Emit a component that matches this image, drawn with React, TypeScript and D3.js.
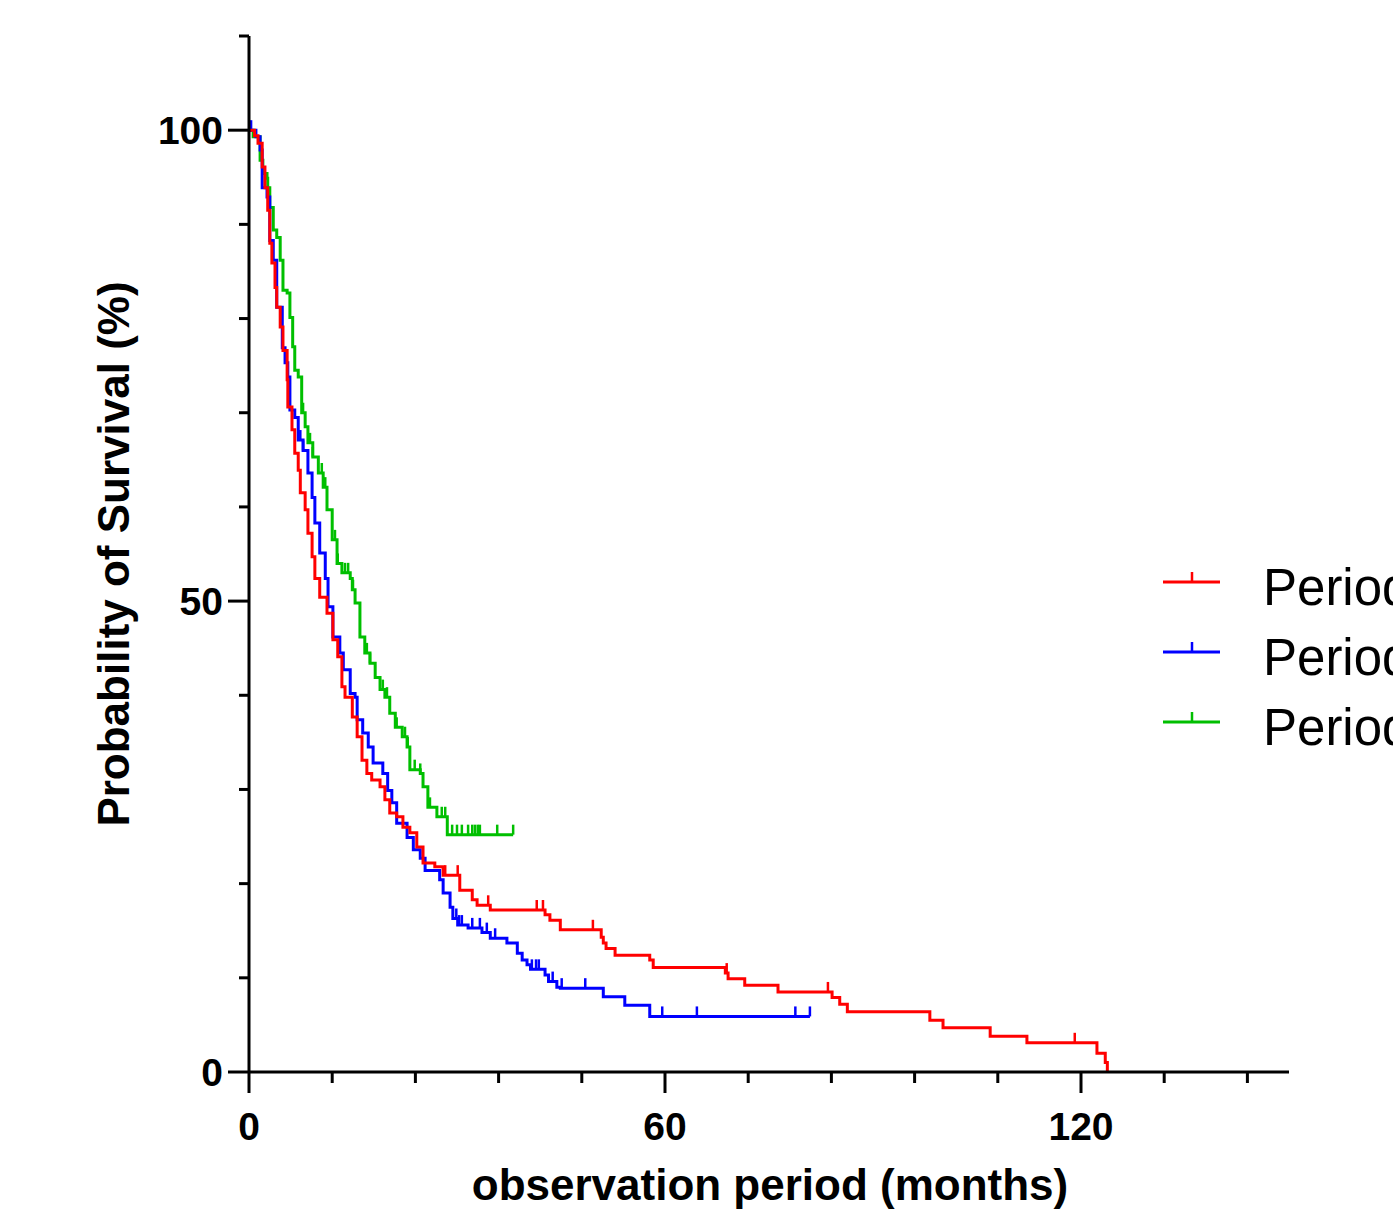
import React from "react";
import * as d3 from "d3";

// ---- data (months, survival %) ----
const redTimes = [0.8, 1.3, 1.9, 2.3, 2.7, 3.0, 3.3, 3.75, 4.0, 4.5, 4.9, 5.5, 5.6, 6.2, 6.6, 7.1, 7.4, 8.1, 8.5, 9.1, 9.5, 10.2, 11.25, 12.1, 12.8, 13.4, 13.85, 14.9, 15.6, 16.3, 17.0, 17.7, 18.9, 19.6, 20.3, 21.3, 22.2, 23.2, 24.2, 25.1, 26.8, 28.0, 30.4, 32.2, 32.9, 34.8, 42.7, 43.4, 44.9, 50.8, 51.1, 51.5, 52.8, 57.8, 58.3, 68.7, 69.1, 71.5, 76.3, 84.1, 85.2, 86.3, 98.2, 100.1, 106.9, 112.2, 122.3, 123.5, 123.8];
const redSurv = [99.4, 98.6, 96.1, 93.9, 91.5, 88.0, 85.9, 83.3, 81.2, 79.1, 76.6, 73.5, 70.6, 68.2, 65.7, 63.9, 61.5, 59.7, 57.2, 54.7, 52.4, 50.4, 48.7, 45.9, 44.1, 40.9, 39.8, 37.7, 35.6, 33.1, 31.7, 31.0, 30.3, 28.9, 27.5, 27.1, 26.0, 25.4, 23.9, 22.2, 21.8, 20.9, 19.3, 18.3, 17.7, 17.2, 16.7, 16.1, 15.1, 14.3, 13.7, 13.1, 12.4, 11.9, 11.1, 10.5, 9.9, 9.2, 8.5, 7.9, 7.2, 6.4, 5.5, 4.7, 3.8, 3.1, 2.0, 1.0, 0];
const redCensor = [28.3, 30.1, 34.5, 41.5, 42.4, 49.6, 68.9, 83.5, 119.1];
const redEnd = 123.8;

const blueTimes = [1.0, 1.6, 1.9, 2.6, 3.0, 3.5, 4.0, 4.8, 5.2, 5.6, 5.9, 6.6, 7.1, 7.8, 8.5, 9.1, 9.5, 10.2, 11.0, 11.4, 12.1, 13.1, 13.6, 14.6, 15.3, 15.6, 16.4, 17.2, 17.9, 19.3, 20.0, 20.6, 21.3, 22.8, 23.7, 24.7, 25.4, 27.5, 28.0, 29.0, 29.4, 30.1, 31.6, 33.6, 34.8, 37.2, 38.7, 39.4, 40.1, 40.6, 42.7, 43.2, 44.4, 44.9, 51.1, 54.2, 57.8];
const blueSurv = [99.3, 97.9, 93.9, 92.9, 88.3, 86.2, 81.2, 76.9, 75.3, 73.8, 70.3, 69.5, 67.1, 66.0, 63.6, 61.0, 58.3, 55.1, 52.4, 49.4, 46.2, 44.5, 42.7, 40.2, 39.8, 37.4, 36.0, 34.5, 32.8, 31.7, 29.9, 28.6, 26.4, 24.9, 23.6, 22.7, 21.4, 20.4, 19.0, 17.5, 16.3, 15.6, 15.3, 14.8, 14.2, 13.7, 12.6, 11.9, 11.4, 10.9, 10.3, 9.6, 9.0, 8.9, 8.0, 7.1, 5.9];
const blueCensor = [0.3, 7.4, 7.8, 29.9, 30.3, 30.7, 32.2, 33.3, 34.3, 35.5, 40.8, 41.4, 41.8, 43.8, 45.1, 48.5, 59.6, 64.6, 78.8, 80.9];
const blueEnd = 80.9;

const greenTimes = [0.6, 1.6, 2.0, 2.6, 2.7, 3.0, 3.5, 4.0, 4.5, 4.9, 5.5, 5.9, 6.3, 6.6, 7.1, 7.6, 8.1, 8.5, 9.2, 10.0, 10.7, 11.25, 12.0, 12.7, 13.4, 14.6, 14.9, 15.3, 16.0, 16.7, 17.45, 18.2, 18.9, 19.6, 20.3, 21.1, 22.1, 22.8, 23.2, 24.7, 25.1, 25.8, 27.1, 28.6];
const greenSurv = [99.3, 96.8, 95.4, 94.9, 93.9, 91.8, 89.4, 88.6, 86.2, 83.0, 82.7, 80.1, 77.0, 74.5, 73.8, 70.0, 68.5, 66.8, 65.3, 63.6, 62.1, 59.7, 56.5, 54.0, 53.0, 52.4, 51.2, 49.8, 46.2, 44.5, 43.4, 41.9, 40.6, 39.8, 38.1, 36.6, 35.6, 34.5, 32.1, 31.7, 30.3, 28.1, 27.1, 25.2];
const greenCensor = [7.8, 8.8, 9.2, 10.5, 11.0, 12.4, 12.8, 13.85, 14.3, 14.9, 15.0, 17.0, 17.45, 19.3, 19.9, 21.3, 22.5, 22.9, 23.9, 24.7, 26.1, 27.8, 28.3, 29.3, 30.0, 30.7, 31.6, 32.2, 32.6, 33.0, 33.3, 35.8, 38.1];
const greenEnd = 38.1;

const legendLabels = ["Period 1", "Period 2", "Period 3"];
const xMajorTicks = [0, 60, 120];
const xMinorTicks = [12, 24, 36, 48, 72, 84, 96, 108, 132, 144];
const yMajorTicks = [0, 50, 100];
const yMinorTicks = [10, 20, 30, 40, 60, 70, 80, 90, 110];

const W = 1393;
const H = 1212;
const FONT = "'Liberation Sans', Arial, Helvetica, sans-serif";

const x = d3.scaleLinear().domain([0, 150]).range([249, 1289]);
const y = d3.scaleLinear().domain([0, 110]).range([1072, 36]);

type Series = { times: number[]; surv: number[]; censor: number[]; end: number; color: string };

const series: Series[] = [
  { times: redTimes, surv: redSurv, censor: redCensor, end: redEnd, color: "#FF0000" },
  { times: blueTimes, surv: blueSurv, censor: blueCensor, end: blueEnd, color: "#0000FF" },
  { times: greenTimes, surv: greenSurv, censor: greenCensor, end: greenEnd, color: "#00BF00" },
];

const line = d3
  .line<[number, number]>()
  .x((d) => x(d[0]))
  .y((d) => y(d[1]))
  .curve(d3.curveStepAfter);

function buildPoints(s: Series): [number, number][] {
  const pts: [number, number][] = [[0, 100]];
  s.times.forEach((t, i) => pts.push([t, s.surv[i]]));
  const last = s.surv[s.surv.length - 1];
  if (s.end > s.times[s.times.length - 1]) pts.push([s.end, last]);
  return pts;
}

function survAt(s: Series, t: number): number {
  let v = 100;
  for (let i = 0; i < s.times.length; i++) {
    if (s.times[i] <= t) v = s.surv[i];
    else break;
  }
  return v;
}

export default function App() {
  const drawOrder = [2, 1, 0];
  return (
    <svg
      width={W}
      height={H}
      style={{ position: "absolute", left: 0, top: 0, background: "#fff", overflow: "hidden" }}
      fontFamily={FONT}
    >
      <rect x={0} y={0} width={W} height={H} fill="#fff" />
      {/* curves */}
      {drawOrder.map((k) => {
        const s = series[k];
        return (
          <g key={k}>
            <path d={line(buildPoints(s)) || ""} fill="none" stroke={s.color} strokeWidth={3} strokeLinejoin="miter" />
            {s.censor.map((c, i) => {
              const v = survAt(s, c);
              return (
                <line key={i} x1={x(c)} x2={x(c)} y1={y(v)} y2={y(v) - 10} stroke={s.color} strokeWidth={2.5} />
              );
            })}
          </g>
        );
      })}

      {/* axes */}
      <g stroke="#000" strokeWidth={3}>
        <line x1={x(0)} x2={x(150)} y1={y(0)} y2={y(0)} />
        <line x1={x(0)} x2={x(0)} y1={y(0)} y2={y(110)} />
        {xMajorTicks.map((t) => (
          <line key={"xM" + t} x1={x(t)} x2={x(t)} y1={y(0)} y2={y(0) + 21} />
        ))}
        {xMinorTicks.map((t) => (
          <line key={"xm" + t} x1={x(t)} x2={x(t)} y1={y(0)} y2={y(0) + 11} />
        ))}
        {yMajorTicks.map((t) => (
          <line key={"yM" + t} x1={x(0) - 21} x2={x(0)} y1={y(t)} y2={y(t)} />
        ))}
        {yMinorTicks.map((t) => (
          <line key={"ym" + t} x1={x(0) - 10} x2={x(0)} y1={y(t)} y2={y(t)} />
        ))}
      </g>
      {xMajorTicks.map((t) => (
        <text key={"xl" + t} x={x(t)} y={1140} textAnchor="middle" fontSize={39} fontWeight="bold" fill="#000">
          {t}
        </text>
      ))}
      {yMajorTicks.map((t) => (
        <text key={"yl" + t} x={223} y={y(t) + 14} textAnchor="end" fontSize={39} fontWeight="bold" fill="#000">
          {t}
        </text>
      ))}
      <text x={770} y={1200} textAnchor="middle" fontSize={44} fontWeight="bold" fill="#000">
        observation period (months)
      </text>
      <text
        transform={`translate(129, 554) rotate(-90)`}
        textAnchor="middle"
        fontSize={44}
        fontWeight="bold"
        fill="#000"
      >
        Probability of Survival (%)
      </text>

      {/* legend */}
      {series.map((s, i) => {
        const ly = 582 + i * 70;
        return (
          <g key={"lg" + i}>
            <line x1={1163} x2={1220} y1={ly} y2={ly} stroke={s.color} strokeWidth={3} />
            <line x1={1192} x2={1192} y1={ly} y2={ly - 10} stroke={s.color} strokeWidth={2.5} />
            <text x={1263} y={ly + 23} fontSize={51} fill="#000">
              {legendLabels[i]}
            </text>
          </g>
        );
      })}
    </svg>
  );
}
